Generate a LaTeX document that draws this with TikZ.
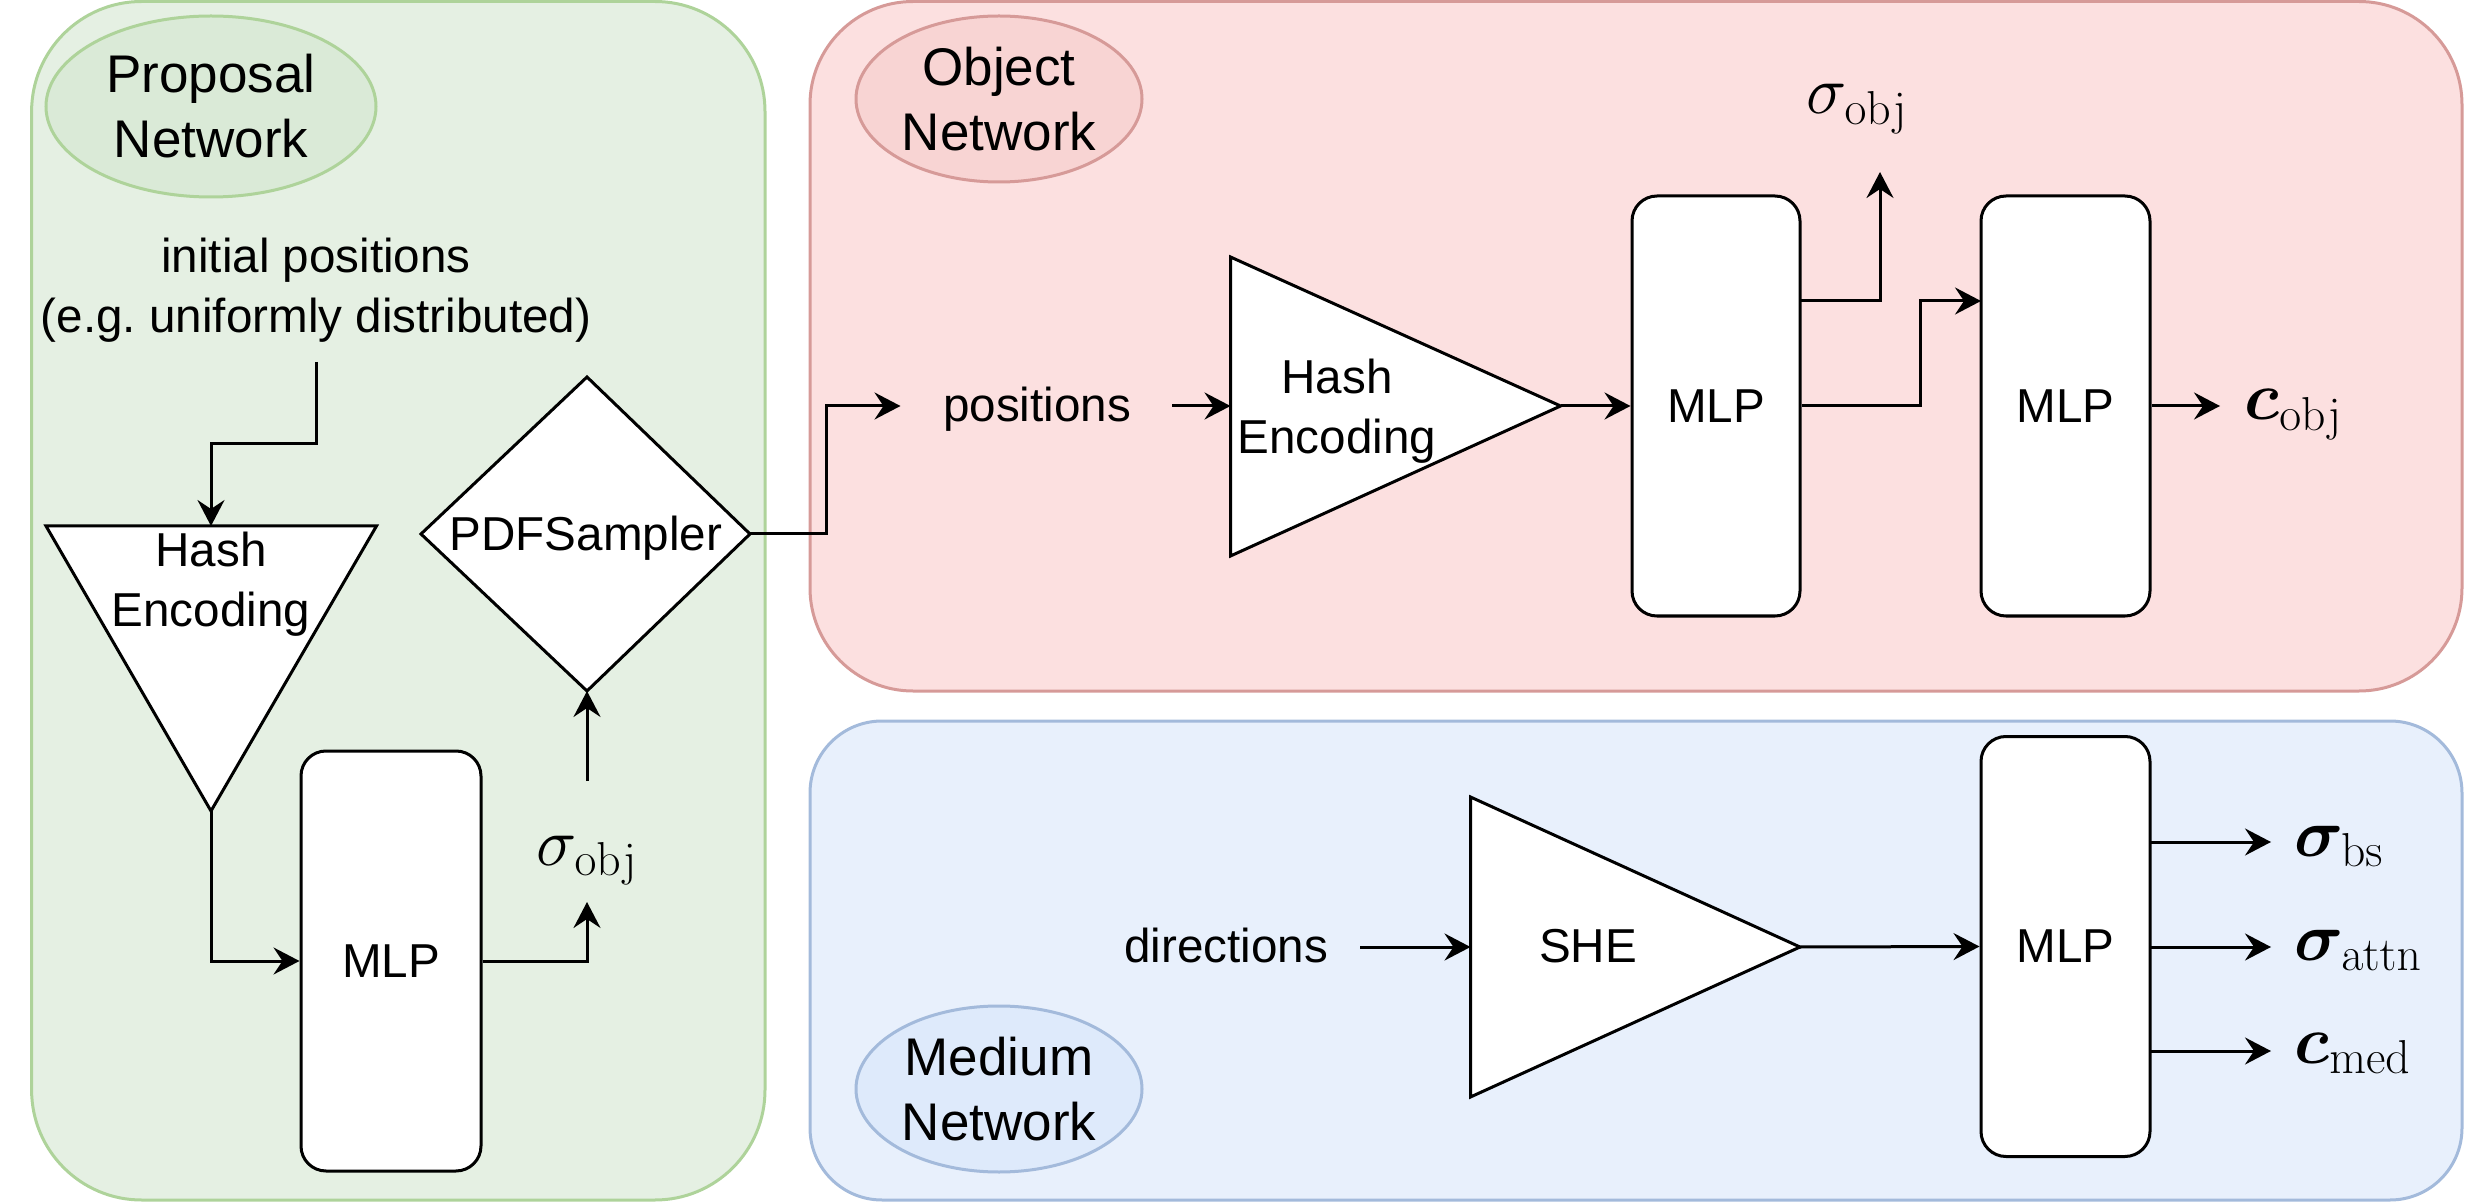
\RequirePackage{fix-cm}
\documentclass[tikz,border=0pt]{standalone}
\usepackage{amsmath}
\usepackage{bm}
\usepackage[no-math]{fontspec}
\setmainfont{Liberation Sans}
\usetikzlibrary{arrows.meta,shapes.geometric}
\definecolor{gfill}{HTML}{E5F0E3}
\definecolor{gell}{HTML}{DAEAD7}
\definecolor{gline}{HTML}{AED39A}
\definecolor{rfill}{HTML}{FCE0E0}
\definecolor{rell}{HTML}{F8D4D3}
\definecolor{rline}{HTML}{D69A98}
\definecolor{bfill}{HTML}{E8F0FC}
\definecolor{bell}{HTML}{DEEAFB}
\definecolor{bline}{HTML}{A3BADB}
\newcommand\ftxt{\fontsize{23.8}{30}\selectfont}
\newcommand\flbl{\fontsize{26.5}{32.5}\selectfont}
\newcommand\fmth{\fontsize{34}{40}\selectfont}
\begin{document}
\begin{tikzpicture}[x=0.5pt,y=-0.5pt,
  panel/.style={line width=1.5pt},
  tag/.style={ellipse,line width=1.5pt,inner sep=0pt,align=center,font=\flbl},
  blk/.style={draw,fill=white,line width=1.5pt,rounded corners=12.5pt,minimum height=210pt,inner sep=0pt,font=\ftxt},
  shp/.style={draw,fill=white,line width=1.5pt,line join=miter},
  lbl/.style={font=\ftxt,inner sep=0pt,align=center},
  mth/.style={font=\fmth,inner sep=0pt},
  arr/.style={line width=1.5pt,-{Stealth[length=13pt,width=13.5pt,inset=4.5pt]}}]
\useasboundingbox (0,0) rectangle (2486,1203);
% panels
\draw[panel,fill=gfill,draw=gline,rounded corners=55pt] (31.6,1.5) rectangle (765,1200);
\draw[panel,fill=rfill,draw=rline,rounded corners=51.5pt] (810,1.5) rectangle (2462,691);
\draw[panel,fill=bfill,draw=bline,rounded corners=36pt] (810,721) rectangle (2462,1200);
% tags
\node[tag,fill=gell,draw=gline,minimum width=165pt,minimum height=90.5pt] (tagP) at (211,106.5) {Proposal\\Network};
\node[tag,fill=rell,draw=rline,minimum width=143pt,minimum height=83pt] (tagO) at (999,99) {Object\\Network};
\node[tag,fill=bell,draw=bline,minimum width=143pt,minimum height=83pt] (tagM) at (999,1089) {Medium\\Network};
% ---------- proposal network
\node[lbl] (init) at (316,290) {initial positions\\(e.g.\ uniformly distributed)};
\coordinate (initout) at (316,362);
\draw[shp] (46,526) -- (376.5,526) -- (211,811) -- cycle;
\coordinate (he1top) at (211,526);
\coordinate (he1apex) at (211,811);
\node[lbl] (he1) at (211,584.5) {Hash\\Encoding};
\node[blk,minimum width=90pt] (mlpA) at (391,961) {MLP};
\node[mth,anchor=base] (sigA) at (587,865) {$\sigma_{\mathrm{obj}}$};
\coordinate (sigAin) at (587,902);
\coordinate (sigAout) at (587,781);
\draw[shp] (587,377) -- (750,534) -- (587,691) -- (421,534) -- cycle;
\coordinate (pdfbot) at (587,691);
\coordinate (pdfright) at (750,534);
\node[lbl,anchor=base] (pdf) at (586,551) {PDFSampler};
\draw[arr] (initout) -- (316,444) -- (211,444) -- (he1top);
\draw[arr] (he1apex) |- (mlpA.west);
\draw[arr] (mlpA.east) -| (sigAin);
\draw[arr] (sigAout) -- (pdfbot);
% ---------- object network
\node[lbl,anchor=base] (pos) at (1037,422) {positions};
\coordinate (posin) at (900.5,406);
\coordinate (posout) at (1172,406);
\draw[arr] (pdfright) -- (826,534) |- (posin);
\draw[shp] (1230.5,257) -- (1560.6,406) -- (1230.5,556) -- cycle;
\coordinate (he2left) at (1230.5,406);
\coordinate (he2apex) at (1560.6,406);
\node[lbl] (he2) at (1337,411.5) {Hash\\Encoding};
\draw[arr] (posout) -- (he2left);
\node[blk,minimum width=84pt] (mlpB) at (1716,406) {MLP};
\node[blk,minimum width=84.5pt] (mlpC) at (2065.5,406) {MLP};
\draw[arr] (he2apex) -- (mlpB.west);
\coordinate (mBup) at (1800,301);
\coordinate (sigBin) at (1880,172);
\node[mth,anchor=base] (sigB) at (1857,114) {$\sigma_{\mathrm{obj}}$};
\draw[arr] (mBup) -| (sigBin);
\coordinate (mCin) at (1981,301);
\draw[arr] (mlpB.east) -- (1920.5,406) |- (mCin);
\coordinate (cobjin) at (2220,406);
\draw[arr] (mlpC.east) -- (cobjin);
\node[mth,anchor=base west] (cobj) at (2244,420) {$\bm{c}_{\mathrm{obj}}$};
% ---------- medium network
\node[lbl,anchor=base] (dir) at (1226,962) {directions};
\coordinate (dirout) at (1360,947);
\draw[shp] (1470.5,797) -- (1800,947) -- (1470.5,1097) -- cycle;
\coordinate (sheleft) at (1470.5,947);
\coordinate (sheapex) at (1800,947);
\node[lbl,anchor=base] (she) at (1588,962) {SHE};
\draw[arr] (dirout) -- (sheleft);
\node[blk,minimum width=84.5pt] (mlpD) at (2065.5,946.5) {MLP};
\draw[arr] (sheapex) -- (mlpD.west);
\coordinate (oA) at (2150,842);
\coordinate (oB) at (2150,947);
\coordinate (oC) at (2150,1051);
\coordinate (tA) at (2271,842);
\coordinate (tB) at (2271,947);
\coordinate (tC) at (2271,1051);
\draw[arr] (oA) -- (tA);
\draw[arr] (oB) -- (tB);
\draw[arr] (oC) -- (tC);
\node[mth,anchor=base west] (sbs) at (2294,856) {$\bm{\sigma}_{\mathrm{bs}}$};
\node[mth,anchor=base west] (sattn) at (2294,960) {$\bm{\sigma}_{\mathrm{attn}}$};
\node[mth,anchor=base west] (cmed) at (2294,1063) {$\bm{c}_{\mathrm{med}}$};
\end{tikzpicture}
\end{document}
